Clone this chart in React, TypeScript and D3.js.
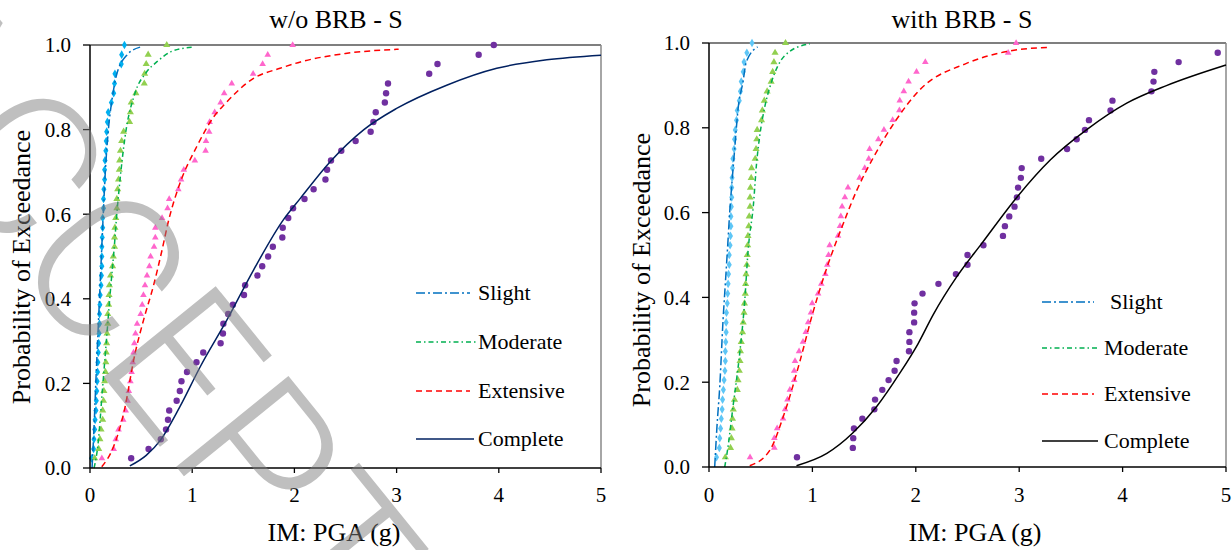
import React from 'react';
import * as d3 from 'd3';

// probability of exceedance steps used by the empirical points
const probLevels = [
  0.023, 0.045, 0.068, 0.091, 0.114, 0.136, 0.159, 0.182, 0.205, 0.227, 0.25,
  0.273, 0.295, 0.318, 0.341, 0.364, 0.386, 0.409, 0.432, 0.455, 0.477, 0.5,
  0.523, 0.545, 0.568, 0.591, 0.614, 0.636, 0.659, 0.682, 0.705, 0.727, 0.75,
  0.773, 0.795, 0.818, 0.841, 0.864, 0.886, 0.909, 0.932, 0.955, 0.977, 1.0,
];

// w/o BRB - empirical PGA values
const leftSlightX = [
  0.015, 0.035, 0.039, 0.046, 0.05, 0.058, 0.062, 0.066, 0.07, 0.074, 0.077,
  0.081, 0.085, 0.089, 0.093, 0.093, 0.097, 0.1, 0.108, 0.112, 0.116, 0.116,
  0.116, 0.12, 0.124, 0.124, 0.132, 0.132, 0.136, 0.143, 0.143, 0.147, 0.155,
  0.159, 0.163, 0.17, 0.178, 0.209, 0.232, 0.24, 0.244, 0.306, 0.31, 0.337,
];
const leftModerateX = [
  0.046, 0.085, 0.097, 0.108, 0.124, 0.124, 0.132, 0.136, 0.143, 0.151, 0.155,
  0.159, 0.163, 0.167, 0.174, 0.174, 0.182, 0.186, 0.19, 0.201, 0.221, 0.228,
  0.24, 0.24, 0.244, 0.252, 0.263, 0.263, 0.271, 0.279, 0.287, 0.29, 0.298,
  0.31, 0.329, 0.387, 0.395, 0.403, 0.449, 0.531, 0.535, 0.55, 0.569, 0.751,
];
const leftExtensiveX = [
  0.116, 0.232, 0.252, 0.279, 0.325, 0.349, 0.368, 0.38, 0.395, 0.407, 0.418,
  0.426, 0.434, 0.445, 0.461, 0.496, 0.511, 0.523, 0.538, 0.558, 0.581, 0.593,
  0.627, 0.639, 0.639, 0.705, 0.759, 0.775, 0.864, 0.891, 0.918, 1.026, 1.131,
  1.135, 1.166, 1.17, 1.22, 1.278, 1.313, 1.387, 1.596, 1.689, 1.739, 1.983,
];
const leftCompleteX = [
  0.403, 0.573, 0.693, 0.744, 0.763, 0.775, 0.848, 0.879, 0.895, 0.949, 1.042,
  1.108, 1.278, 1.301, 1.305, 1.352, 1.398, 1.507, 1.518, 1.638, 1.685, 1.743,
  1.789, 1.882, 1.886, 1.94, 1.987, 2.099, 2.188, 2.304, 2.32, 2.358, 2.459,
  2.599, 2.746, 2.773, 2.796, 2.885, 2.897, 2.916, 3.319, 3.4, 3.803, 3.951,
];

// with BRB - empirical PGA values
const rightSlightX = [
  0.073, 0.1, 0.104, 0.112, 0.119, 0.127, 0.131, 0.139, 0.146, 0.154, 0.158,
  0.158, 0.162, 0.166, 0.166, 0.169, 0.177, 0.181, 0.185, 0.189, 0.196, 0.196,
  0.204, 0.208, 0.212, 0.212, 0.216, 0.22, 0.22, 0.223, 0.227, 0.231, 0.243,
  0.247, 0.254, 0.266, 0.273, 0.293, 0.304, 0.312, 0.331, 0.339, 0.366, 0.416,
];
const rightModerateX = [
  0.158, 0.208, 0.216, 0.223, 0.227, 0.235, 0.247, 0.274, 0.281, 0.293, 0.3,
  0.304, 0.312, 0.324, 0.331, 0.339, 0.343, 0.351, 0.354, 0.358, 0.366, 0.37,
  0.374, 0.377, 0.385, 0.389, 0.397, 0.397, 0.401, 0.408, 0.412, 0.447, 0.455,
  0.462, 0.466, 0.508, 0.516, 0.535, 0.562, 0.601, 0.616, 0.628, 0.639, 0.74,
];
const rightExtensiveX = [
  0.397, 0.632, 0.632, 0.659, 0.716, 0.736, 0.759, 0.782, 0.824, 0.824, 0.832,
  0.871, 0.909, 0.936, 0.959, 0.986, 0.998, 1.055, 1.086, 1.125, 1.144, 1.156,
  1.167, 1.248, 1.267, 1.275, 1.287, 1.314, 1.344, 1.456, 1.506, 1.545, 1.553,
  1.638, 1.692, 1.776, 1.841, 1.845, 1.884, 1.93, 2.007, 2.092, 2.893, 2.97,
];
const rightCompleteX = [
  0.851, 1.391, 1.395, 1.402, 1.483, 1.599, 1.606, 1.676, 1.737, 1.795, 1.814,
  1.934, 1.938, 1.938, 1.984, 1.984, 1.988, 2.065, 2.219, 2.388, 2.5, 2.5,
  2.654, 2.843, 2.862, 2.904, 2.955, 2.978, 2.989, 3.016, 3.024, 3.213, 3.463,
  3.556, 3.636, 3.675, 3.883, 3.902, 4.279, 4.299, 4.307, 4.542, 4.92,
];

// fitted fragility curves [PGA, P]
const leftSlightFit = [
  [0.02, 0], [0.04, 0.1], [0.06, 0.22], [0.08, 0.33], [0.1, 0.44], [0.13, 0.6],
  [0.15, 0.7], [0.18, 0.8], [0.22, 0.878], [0.255, 0.925], [0.36, 0.976], [0.49, 0.995],
];
const leftModerateFit = [
  [0.04, 0], [0.08, 0.06], [0.12, 0.18], [0.16, 0.3], [0.2, 0.42], [0.24, 0.53],
  [0.26, 0.594], [0.287, 0.665], [0.343, 0.783], [0.44, 0.886], [0.55, 0.935],
  [0.653, 0.96], [0.8, 0.985], [1.0, 0.995],
];
const leftExtensiveFit = [
  [0.115, 0.003], [0.23, 0.05], [0.33, 0.13], [0.44, 0.27], [0.53, 0.355],
  [0.62, 0.43], [0.7, 0.51], [0.77, 0.586], [0.88, 0.673], [1.045, 0.76],
  [1.21, 0.83], [1.31, 0.858], [1.6, 0.921], [1.86, 0.945], [2.06, 0.96],
  [2.5, 0.98], [3.02, 0.99],
];
const leftCompleteFit = [
  [0.39, 0.005], [0.55, 0.03], [0.69, 0.066], [0.88, 0.145], [1.08, 0.24],
  [1.34, 0.35], [1.6, 0.468], [1.89, 0.586], [2.06, 0.638], [2.35, 0.724],
  [2.68, 0.8], [3.0, 0.85], [3.49, 0.905], [3.98, 0.945], [4.47, 0.965], [5.0, 0.976],
];
const rightSlightFit = [
  [0.055, 0], [0.077, 0.095], [0.104, 0.19], [0.136, 0.347], [0.16, 0.44],
  [0.184, 0.535], [0.2, 0.6], [0.225, 0.68], [0.25, 0.755], [0.28, 0.842],
  [0.33, 0.91], [0.36, 0.955], [0.47, 0.991],
];
const rightModerateFit = [
  [0.152, 0], [0.184, 0.048], [0.232, 0.142], [0.297, 0.268], [0.345, 0.39],
  [0.378, 0.51], [0.43, 0.62], [0.46, 0.716], [0.49, 0.78], [0.54, 0.85],
  [0.6, 0.905], [0.67, 0.948], [0.78, 0.98], [0.975, 0.998],
];
const rightExtensiveFit = [
  [0.394, 0.003], [0.59, 0.04], [0.72, 0.12], [0.88, 0.25], [1.0, 0.36],
  [1.14, 0.47], [1.3, 0.575], [1.43, 0.653], [1.59, 0.73], [1.8, 0.815],
  [2.04, 0.89], [2.49, 0.952], [2.88, 0.98], [3.3, 0.99],
];
const rightCompleteFit = [
  [0.846, 0.003], [1.14, 0.032], [1.39, 0.08], [1.62, 0.142], [1.85, 0.223],
  [2.02, 0.29], [2.17, 0.36], [2.4, 0.45], [2.64, 0.528], [2.98, 0.637],
  [3.3, 0.724], [3.65, 0.795], [4.04, 0.858], [4.43, 0.9], [5.0, 0.948],
];

const xTicks = [0, 1, 2, 3, 4, 5];
const yTicks = [0, 0.2, 0.4, 0.6, 0.8, 1.0];
const legendLabels = ['Slight', 'Moderate', 'Extensive', 'Complete'];

const serif = { fontFamily: "'Times New Roman', 'Liberation Serif', serif" };

type Series = {
  xs: number[];
  fit: number[][];
  marker: 'diamond' | 'triangle' | 'circle';
  markerColor: string;
  markerSize: number;
  lineColor: string;
  dash: string | null;
};

type PanelProps = {
  title: string;
  titleX: number;
  left: number;
  right: number;
  top: number;
  bottom: number;
  yLabelX: number;
  yLabelY: number;
  xLabelX: number;
  series: Series[];
  legendX: number;
  legendLineEnd: number[];
  legendTextX: number[];
  legendY: number[];
};

const Panel = (p: PanelProps) => {
  const x = d3.scaleLinear().domain([0, 5]).range([p.left, p.right]);
  const y = d3.scaleLinear().domain([0, 1]).range([p.bottom, p.top]);
  const line = d3
    .line<number[]>()
    .x((d) => x(d[0]))
    .y((d) => y(d[1]))
    .curve(d3.curveMonotoneX);

  const symbolPath = (s: Series) => {
    if (s.marker === 'circle') return null;
    const type = s.marker === 'diamond' ? d3.symbolDiamond : d3.symbolTriangle;
    return d3.symbol().type(type).size(s.markerSize)() as string;
  };

  return (
    <g>
      <text x={p.titleX} y={28} textAnchor="middle" fontSize={26} style={serif}>
        {p.title}
      </text>

      {/* frame */}
      <line x1={p.left} x2={p.right} y1={p.top} y2={p.top} stroke="#555" strokeWidth={1.5} />
      <line x1={p.right} x2={p.right} y1={p.top} y2={p.bottom} stroke="#888" strokeWidth={1.5} />

      {/* points */}
      {p.series.map((s, i) => {
        const path = symbolPath(s);
        return (
          <g key={'pts' + i}>
            {s.xs.map((v, j) =>
              path === null ? (
                <circle key={j} cx={x(v)} cy={y(probLevels[j])} r={s.markerSize} fill={s.markerColor} />
              ) : (
                <path
                  key={j}
                  d={path}
                  transform={`translate(${x(v)},${y(probLevels[j])})`}
                  fill={s.markerColor}
                />
              )
            )}
          </g>
        );
      })}

      {/* fitted curves */}
      {p.series.map((s, i) => (
        <path
          key={'fit' + i}
          d={line(s.fit) as string}
          fill="none"
          stroke={s.lineColor}
          strokeWidth={1.5}
          strokeDasharray={s.dash ?? undefined}
        />
      ))}

      {/* axes */}
      <line x1={p.left} x2={p.left} y1={p.top} y2={p.bottom} stroke="#000" strokeWidth={1.5} />
      <line x1={p.left} x2={p.right} y1={p.bottom} y2={p.bottom} stroke="#000" strokeWidth={1.5} />
      {yTicks.map((t) => (
        <g key={'yt' + t}>
          <line x1={p.left - 7} x2={p.left} y1={y(t)} y2={y(t)} stroke="#000" strokeWidth={1.3} />
          <text x={p.left - 19} y={y(t)} dy="0.35em" textAnchor="end" fontSize={21} style={serif}>
            {d3.format('.1f')(t)}
          </text>
        </g>
      ))}
      {xTicks.map((t) => (
        <g key={'xt' + t}>
          <line x1={x(t)} x2={x(t)} y1={p.bottom} y2={p.bottom + 5} stroke="#000" strokeWidth={1.3} />
          <text x={x(t)} y={502} textAnchor="middle" fontSize={21} style={serif}>
            {t}
          </text>
        </g>
      ))}

      <text x={p.xLabelX} y={541} textAnchor="middle" fontSize={26} style={serif}>
        IM: PGA (g)
      </text>
      <text
        transform={`translate(${p.yLabelX},${p.yLabelY}) rotate(-90)`}
        textAnchor="middle"
        fontSize={26}
        style={serif}
      >
        Probability of Exceedance
      </text>

      {/* legend */}
      {p.series.map((s, i) => (
        <g key={'lg' + i}>
          <line
            x1={p.legendX}
            x2={p.legendLineEnd[i]}
            y1={p.legendY[i]}
            y2={p.legendY[i]}
            stroke={s.lineColor}
            strokeWidth={1.5}
            strokeDasharray={s.dash ?? undefined}
          />
          <text x={p.legendTextX[i]} y={p.legendY[i]} dy="0.33em" fontSize={22} style={serif}>
            {legendLabels[i]}
          </text>
        </g>
      ))}
    </g>
  );
};

const slightDash = '9,3,2,3';
const moderateDash = '5,3,1.5,3';
const extensiveDash = '6,4';

const leftSeries: Series[] = [
  { xs: leftSlightX, fit: leftSlightFit, marker: 'diamond', markerColor: '#00b0f0', markerSize: 22, lineColor: '#0070c0', dash: slightDash },
  { xs: leftModerateX, fit: leftModerateFit, marker: 'triangle', markerColor: '#92d050', markerSize: 22, lineColor: '#00b050', dash: moderateDash },
  { xs: leftExtensiveX, fit: leftExtensiveFit, marker: 'triangle', markerColor: '#ff66cc', markerSize: 19, lineColor: '#ff0000', dash: extensiveDash },
  { xs: leftCompleteX, fit: leftCompleteFit, marker: 'circle', markerColor: '#7030a0', markerSize: 3.2, lineColor: '#002060', dash: null },
];

const rightSeries: Series[] = [
  { xs: rightSlightX, fit: rightSlightFit, marker: 'diamond', markerColor: '#5ec6f6', markerSize: 22, lineColor: '#0070c0', dash: slightDash },
  { xs: rightModerateX, fit: rightModerateFit, marker: 'triangle', markerColor: '#92d050', markerSize: 22, lineColor: '#00b050', dash: moderateDash },
  { xs: rightExtensiveX, fit: rightExtensiveFit, marker: 'triangle', markerColor: '#ff66cc', markerSize: 19, lineColor: '#ff0000', dash: extensiveDash },
  { xs: rightCompleteX, fit: rightCompleteFit, marker: 'circle', markerColor: '#7030a0', markerSize: 3.2, lineColor: '#000000', dash: null },
];

const App = () => {
  return (
    <svg
      width={1232}
      height={550}
      style={{ position: 'absolute', left: 0, top: 0, background: '#fff' }}
    >
      <rect width={1232} height={550} fill="#fff" />
      <Panel
        title="w/o BRB - S"
        titleX={336}
        left={90}
        right={601}
        top={45}
        bottom={468}
        yLabelX={30}
        yLabelY={267}
        xLabelX={334}
        series={leftSeries}
        legendX={416}
        legendLineEnd={[470, 476, 470, 474]}
        legendTextX={[478, 478, 478, 478]}
        legendY={[293, 342, 391, 439]}
      />
      <Panel
        title="with BRB - S"
        titleX={962}
        left={709}
        right={1226}
        top={43}
        bottom={467}
        yLabelX={650}
        yLabelY={270}
        xLabelX={975}
        series={rightSeries}
        legendX={1042}
        legendLineEnd={[1094, 1100, 1094, 1098]}
        legendTextX={[1110, 1104, 1104, 1104]}
        legendY={[302, 348, 394, 441]}
      />
      {/* watermark */}
      <text
        transform="translate(-153,60) rotate(51)"
        fontSize={203}
        fontFamily="Roboto, DejaVu Sans, sans-serif"
        fontWeight={300}
        fill="#808080"
        opacity={0.5}
      >
        ACCEPTED
      </text>
    </svg>
  );
};

export default App;
